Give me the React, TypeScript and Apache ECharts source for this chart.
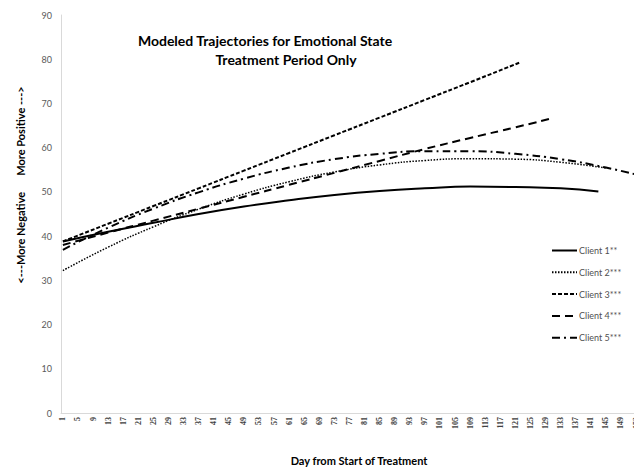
import React, { useEffect, useRef } from "react";
import * as echarts from "echarts";

const days: string[] = Array.from({ length: 155 }, (_, i) => String(i + 1));

const client1Days = [1, 13, 25, 37, 49, 61, 73, 85, 97, 109, 121, 133, 143];
const client1Vals = [38.8, 41.0, 43.0, 45.0, 46.7, 48.1, 49.3, 50.2, 50.8, 51.2, 51.1, 50.8, 50.1];

const client2Days = [1, 13, 25, 37, 49, 61, 73, 85, 97, 109, 121, 133, 145];
const client2Vals = [32.2, 37.5, 42.1, 46.1, 49.5, 52.3, 54.5, 56.1, 57.1, 57.5, 57.4, 56.7, 55.4];

const client3Days = [1, 13, 25, 37, 49, 61, 73, 85, 97, 109, 122];
const client3Vals = [38.8, 42.8, 46.8, 50.8, 54.8, 58.8, 62.8, 66.8, 70.8, 74.8, 79.2];

const client4Days = [1, 13, 25, 37, 49, 61, 73, 85, 97, 109, 121, 131];
const client4Vals = [38.0, 40.8, 43.5, 46.2, 48.9, 51.6, 54.3, 57.0, 59.7, 62.2, 64.6, 66.7];

const client5Days = [1, 13, 25, 37, 49, 61, 73, 85, 97, 109, 121, 133, 145, 155];
const client5Vals = [36.9, 41.9, 46.2, 49.9, 53.0, 55.5, 57.4, 58.6, 59.2, 59.2, 58.6, 57.4, 55.5, 53.5];

const seriesNames = ["Client 1**", "Client 2***", "Client 3***", "Client 4***", "Client 5***"];

const pairs = (d: number[], v: number[]) => d.map((x, i) => [String(x), v[i]]);

export default function App() {
  const ref = useRef<HTMLDivElement>(null);
  useEffect(() => {
    if (!ref.current) return;
    const chart = echarts.init(ref.current, undefined, { renderer: "svg" });
    const font = "Lato, 'Open Sans', sans-serif";
    const mk = (name: string, data: any[], type: any, width: number) => ({
      name,
      type: "line",
      data,
      smooth: true,
      symbol: "none",
      lineStyle: { color: "#000", width, type },
      itemStyle: { color: "#000" },
    });
    chart.setOption({
      animation: false,
      backgroundColor: "#fff",
      textStyle: { fontFamily: font },
      grid: { left: 61, right: -11.5, top: 15, bottom: 54, containLabel: false, outerBoundsMode: "none" },
      xAxis: {
        type: "category",
        data: days,
        boundaryGap: true,
        axisLine: { lineStyle: { color: "#d9d9d9", width: 1 } },
        axisTick: { show: false },
        axisLabel: {
          interval: 3,
          rotate: 90,
          margin: 4,
          fontSize: 8,
          fontWeight: "bold",
          color: "#404040",
          fontFamily: "'Liberation Serif', serif",
        },
        splitLine: { show: false },
      },
      yAxis: {
        type: "value",
        min: 0,
        max: 90,
        interval: 10,
        axisLine: { show: true, lineStyle: { color: "#d9d9d9", width: 1 } },
        axisTick: { show: false },
        splitLine: { show: false },
        axisLabel: { fontSize: 9, color: "#595959", margin: 9, fontFamily: font },
      },
      legend: {
        orient: "vertical",
        left: 546,
        top: 241,
        itemWidth: 25,
        itemHeight: 10,
        itemGap: 12.8,
        data: seriesNames,
        itemStyle: { color: "transparent", borderColor: "transparent", borderWidth: 0 },
        textStyle: { fontSize: 9, color: "#505050", fontFamily: font, padding: [0, 0, 0, -3] },
      },
      graphic: [
        {
          type: "text",
          x: 265,
          y: 40,
          style: {
            text: "Modeled Trajectories for Emotional State",
            font: "bold 14px Lato, sans-serif",
            fill: "#000",
            textAlign: "center",
            textVerticalAlign: "middle",
          },
        },
        {
          type: "text",
          x: 286,
          y: 59,
          style: {
            text: "Treatment Period Only",
            font: "bold 14px Lato, sans-serif",
            fill: "#000",
            textAlign: "center",
            textVerticalAlign: "middle",
          },
        },
        {
          type: "text",
          x: 20,
          y: 185,
          rotation: Math.PI / 2,
          style: {
            text: "<---More Negative      More Positive --->",
            font: "bold 11px Lato, sans-serif",
            fill: "#000",
            textAlign: "center",
            textVerticalAlign: "middle",
          },
        },
        {
          type: "text",
          x: 359,
          y: 460,
          style: {
            text: "Day from Start of Treatment",
            font: "bold 11px Lato, sans-serif",
            fill: "#000",
            textAlign: "center",
            textVerticalAlign: "middle",
          },
        },
      ],
      series: [
        mk(seriesNames[0], pairs(client1Days, client1Vals), "solid", 2),
        mk(seriesNames[1], pairs(client2Days, client2Vals), [1.5, 1.5], 1.5),
        mk(seriesNames[2], pairs(client3Days, client3Vals), [4, 2], 2),
        mk(seriesNames[3], pairs(client4Days, client4Vals), [8, 5], 2),
        mk(seriesNames[4], pairs(client5Days, client5Vals), [8, 4, 2, 4], 2),
      ],
    });
    return () => chart.dispose();
  }, []);
  return (
    <div
      ref={ref}
      style={{ position: "absolute", left: 0, top: 0, width: 634, height: 467 }}
    />
  );
}
